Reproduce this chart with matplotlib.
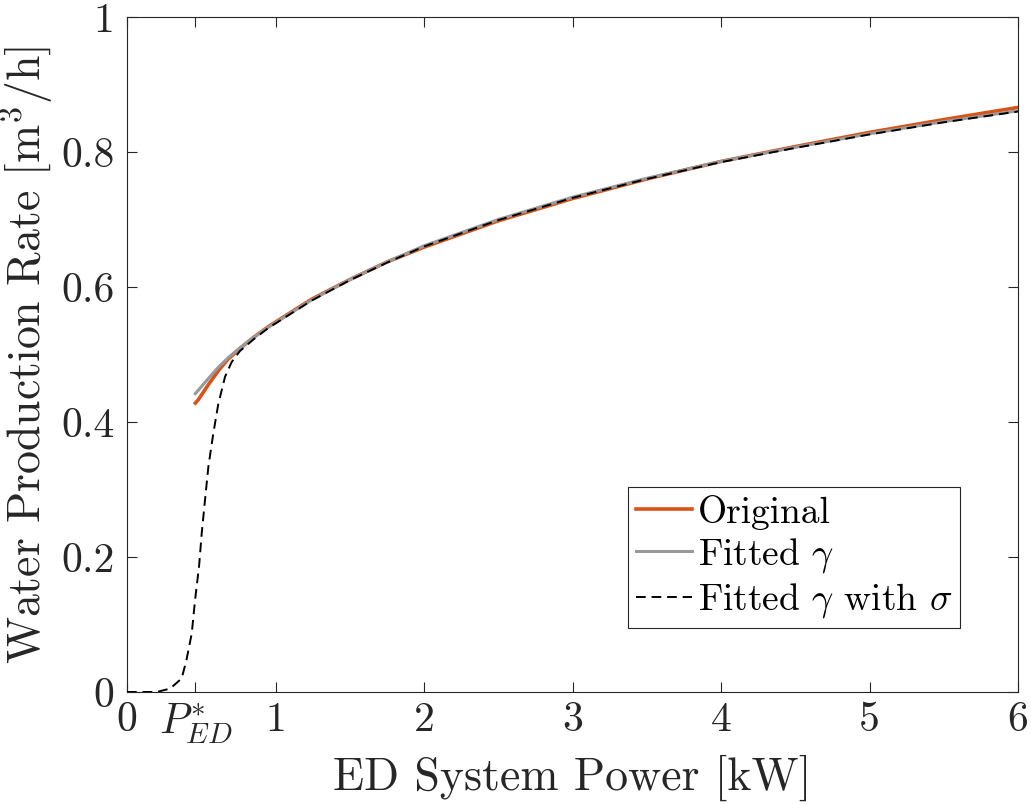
import matplotlib as mpl
mpl.use('Agg')
from matplotlib import pyplot as plt

plt.rcParams['font.family'] = 'serif'
plt.rcParams['font.serif'] = ['cmr10']
plt.rcParams['mathtext.fontset'] = 'cm'
plt.rcParams['axes.formatter.use_mathtext'] = True

# power [kW]
x_curve = [0.46, 0.48, 0.55, 0.615, 0.68, 0.75, 0.85, 0.95, 1.1, 1.244, 1.5, 1.75, 2.0, 2.5,
           3.0, 3.5, 4.0, 4.5, 5.0, 5.5, 6.0]
y_original = [0.428, 0.433, 0.456, 0.476, 0.493, 0.507, 0.525, 0.541, 0.562, 0.582, 0.611, 0.637,
              0.659, 0.698, 0.731, 0.76, 0.786, 0.808, 0.829, 0.848, 0.866]
y_fitted = [0.442, 0.447, 0.465, 0.481, 0.495, 0.508, 0.525, 0.54, 0.561, 0.581, 0.611, 0.637,
            0.661, 0.7, 0.733, 0.761, 0.786, 0.807, 0.827, 0.845, 0.861]

x_sigma = [0.0, 0.2, 0.29, 0.368, 0.40, 0.436, 0.458, 0.485, 0.503, 0.525, 0.548, 0.581,
           0.615, 0.66, 0.705, 0.76, 0.85, 0.95, 1.1, 1.244, 1.5, 1.75, 2.0, 2.5, 3.0, 3.5,
           4.0, 4.5, 5.0, 5.5, 6.0]
y_sigma = [0.0, 0.0, 0.005, 0.02, 0.047, 0.087, 0.136, 0.186, 0.235, 0.284, 0.334, 0.383,
           0.427, 0.467, 0.489, 0.505, 0.522, 0.539, 0.56, 0.58, 0.61, 0.636, 0.66, 0.699,
           0.732, 0.76, 0.785, 0.806, 0.826, 0.844, 0.86]

p_star = 0.46
xtick_pos = [0, p_star, 1, 2, 3, 4, 5, 6]
xtick_lab = ['0', r'$P^{*}_{ED}$', '1', '2', '3', '4', '5', '6']
ytick_pos = [0, 0.2, 0.4, 0.6, 0.8, 1]
ytick_lab = ['0', '0.2', '0.4', '0.6', '0.8', '1']

fig = plt.figure(figsize=(10.31, 8.05), dpi=100)
ax = fig.add_axes([0.1232, 0.1404, 0.8642, 0.8385])

ax.plot(x_curve, y_original, color='#D95319', lw=2.6, label='Original', zorder=2)
ax.plot(x_curve, y_fitted, color='#999999', lw=2.2, label=r'Fitted $\gamma$', zorder=3)
ax.plot(x_sigma, y_sigma, color='k', lw=1.4, dashes=(5, 3), label=r'Fitted $\gamma$ with $\sigma$', zorder=4)

ax.set_xlim(0, 6)
ax.set_ylim(0, 1)
ax.set_xticks(xtick_pos)
ax.set_xticklabels(xtick_lab)
ax.set_yticks(ytick_pos)
ax.set_yticklabels(ytick_lab)
ax.tick_params(direction='in', top=True, right=True, length=7, width=0.8,
               color='#262626', labelsize=30, labelcolor='#262626')
ax.tick_params(axis='x', pad=7)
ax.tick_params(axis='y', pad=9)
for s in ax.spines.values():
    s.set_color('#262626')
    s.set_linewidth(0.8)

ax.set_xlabel('ED System Power [kW]', fontsize=33, color='#262626', labelpad=6)
ax.set_ylabel(r'Water Production Rate [m$^3$/h]', fontsize=33, color='#262626', labelpad=4)

leg = ax.legend(loc='lower right', bbox_to_anchor=(0.935, 0.095), fontsize=27,
                handlelength=1.5, handletextpad=0.16, labelspacing=0.17,
                borderpad=0.2, borderaxespad=0, fancybox=False, framealpha=1)
leg.get_frame().set_edgecolor('#262626')
leg.get_frame().set_linewidth(0.8)

fig.savefig('out.png', dpi=100)
